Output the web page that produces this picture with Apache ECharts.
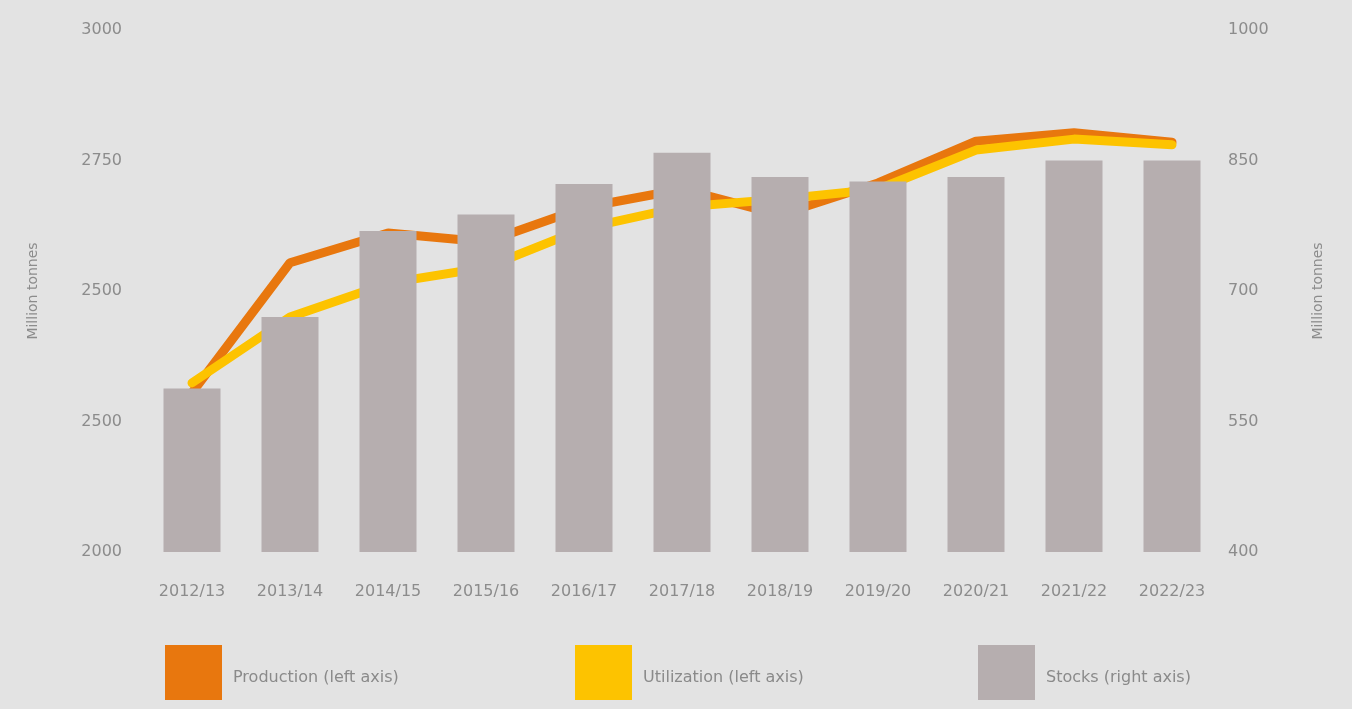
<!DOCTYPE html>
<html>
<head>
<meta charset="utf-8">
<script src="https://cdn.jsdelivr.net/npm/echarts@6/dist/echarts.min.js"></script>
<style>
html,body{margin:0;padding:0;background:#e3e3e3;}
#c{width:1352px;height:709px;}
</style>
</head>
<body>
<div id="c"></div>
<script>
const categories = ["2012/13","2013/14","2014/15","2015/16","2016/17","2017/18","2018/19","2019/20","2020/21","2021/22","2022/23"];
const production = [2305, 2554, 2611, 2594, 2660, 2695, 2646, 2707, 2787, 2803, 2785];
const utilization = [2324, 2450, 2515, 2545, 2620, 2661, 2676, 2695, 2770, 2791, 2780];
const stocks = [588, 670, 769, 788, 823, 859, 831, 826, 831, 850, 850];
const leftTickLabels = ["2000","2500","2500","2750","3000"];
const rightTickLabels = ["400","550","700","850","1000"];

const FONT = '"DejaVu Sans",sans-serif';
const TXT = '#8c8c8c';
const chart = echarts.init(document.getElementById('c'), null, {renderer:'canvas'});

const legendBase = {
  orient:'horizontal', itemWidth:57, itemHeight:55, top:640, icon:'rect',
  formatter:'{t|{name}}',
  textStyle:{color:'#8a8a8a', fontSize:16, fontFamily:FONT,
    rich:{t:{color:'#8a8a8a', fontSize:16, fontFamily:FONT, padding:[10,0,0,6]}}},
  selectedMode:false
};

chart.setOption({
  backgroundColor:'#e3e3e3',
  animation:false,
  grid:{left:143, right:131, top:30, bottom:157},
  legend:[
    Object.assign({}, legendBase, {left:160, data:['Production (left axis)']}),
    Object.assign({}, legendBase, {left:570, data:['Utilization (left axis)']}),
    Object.assign({}, legendBase, {left:973, data:['Stocks (right axis)']})
  ],
  xAxis:{
    type:'category', data:categories,
    axisLine:{show:false}, axisTick:{show:false},
    axisLabel:{color:TXT, fontSize:16, fontFamily:FONT, margin:32}
  },
  yAxis:[
    {type:'value', min:2000, max:3000, interval:250,
     name:'Million tonnes', nameLocation:'middle', nameGap:103, nameRotate:90,
     nameTextStyle:{color:TXT, fontSize:14, fontFamily:FONT},
     axisLine:{show:false}, axisTick:{show:false}, splitLine:{show:false},
     axisLabel:{color:TXT, fontSize:16, fontFamily:FONT, margin:21,
       formatter:v=>leftTickLabels[Math.round((v-2000)/250)]}},
    {type:'value', min:400, max:1000, interval:150,
     name:'Million tonnes', nameLocation:'middle', nameGap:90, nameRotate:90,
     nameTextStyle:{color:TXT, fontSize:14, fontFamily:FONT},
     axisLine:{show:false}, axisTick:{show:false}, splitLine:{show:false},
     axisLabel:{color:TXT, fontSize:16, fontFamily:FONT, margin:7,
       formatter:v=>rightTickLabels[Math.round((v-400)/150)]}}
  ],
  series:[
    {name:'Production (left axis)', type:'line', yAxisIndex:0, data:production,
     color:'#e8770e', symbol:'none', z:2, lineStyle:{width:9, color:'#e8770e', cap:'round'}},
    {name:'Utilization (left axis)', type:'line', yAxisIndex:0, data:utilization,
     color:'#fdc300', symbol:'none', z:2, lineStyle:{width:9, color:'#fdc300', cap:'round'}},
    {name:'Stocks (right axis)', type:'bar', yAxisIndex:1, data:stocks,
     color:'#b6aeaf', barWidth:57, z:3, itemStyle:{color:'#b6aeaf'}}
  ]
});
</script>
</body>
</html>
